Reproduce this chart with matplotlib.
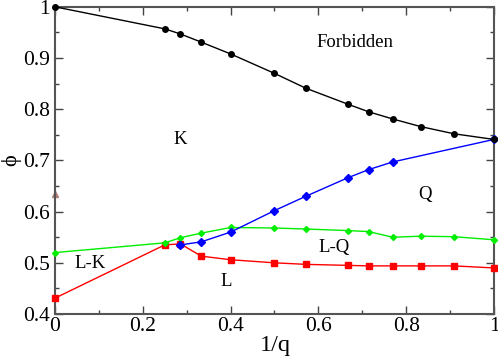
import matplotlib
matplotlib.use("Agg")
import matplotlib.pyplot as plt

plt.rcParams['font.family'] = ['Liberation Serif', 'DejaVu Serif']

# 1/q values
inv_q = [0, 0.25, 0.2857, 0.3333, 0.4, 0.5, 0.5714, 0.6667, 0.7143, 0.7692, 0.8333, 0.9091, 1.0]

phi_top = [1.0, 0.957, 0.947, 0.931, 0.908, 0.870, 0.841, 0.810, 0.795, 0.781, 0.766, 0.752, 0.741]

inv_q_blue = [0.2857, 0.3333, 0.4, 0.5, 0.5714, 0.6667, 0.7143, 0.7692, 1.0]
phi_blue = [0.535, 0.541, 0.560, 0.602, 0.630, 0.666, 0.682, 0.697, 0.741]

phi_green = [0.520, 0.539, 0.549, 0.558, 0.569, 0.568, 0.566, 0.563, 0.561, 0.550, 0.552, 0.551, 0.545]
phi_red = [0.431, 0.535, 0.537, 0.513, 0.506, 0.500, 0.497, 0.495, 0.494, 0.494, 0.494, 0.494, 0.490]

tri_x = [0]
tri_y = [0.635]

x_ticks = [0, 0.2, 0.4, 0.6, 0.8, 1.0]
x_ticklabels = ["0", "0.2", "0.4", "0.6", "0.8", "1"]
y_ticks = [0.4, 0.5, 0.6, 0.7, 0.8, 0.9, 1.0]
y_ticklabels = ["0.4", "0.5", "0.6", "0.7", "0.8", "0.9", "1"]

labels = ["Forbidden", "K", "Q", "L-Q", "L", "L-K"]
label_x = [0.683, 0.285, 0.843, 0.636, 0.39, 0.08]
label_y = [0.931, 0.740, 0.633, 0.530, 0.463, 0.498]

fig = plt.figure(figsize=(4.98, 3.59), dpi=100)
ax = fig.add_axes([0.1104, 0.1253, 0.8816, 0.8557])

ax.plot(inv_q, phi_red, color="red", marker="s", ms=4, lw=1, clip_on=False, zorder=3)
ax.plot(inv_q, phi_green, color="#00ee00", marker="D", ms=3, lw=1, clip_on=False, zorder=3)
ax.plot(inv_q_blue, phi_blue, color="blue", marker="D", ms=4.5, lw=1, clip_on=False, zorder=4)
ax.plot(inv_q, phi_top, color="black", marker="o", ms=4, lw=1, clip_on=False, zorder=5)
ax.plot(tri_x, tri_y, color="#b08078", marker="^", ms=5, ls="none", clip_on=False, zorder=2)

for t, x, y in zip(labels, label_x, label_y):
    ax.text(x, y, t, fontsize=13.5, ha="center", va="center")

ax.set_xlim(0, 1)
ax.set_ylim(0.4, 1.0)
ax.set_xticks(x_ticks)
ax.set_xticklabels(x_ticklabels)
ax.set_xticks([0.1, 0.3, 0.5, 0.7, 0.9], minor=True)
ax.set_yticks(y_ticks)
ax.set_yticklabels(y_ticklabels)
ax.set_yticks([0.45, 0.55, 0.65, 0.75, 0.85, 0.95], minor=True)
ax.tick_params(which="both", direction="in", top=True, right=True, labelsize=15.5, width=1, color="#444444")
ax.tick_params(which="major", length=6)
ax.tick_params(which="minor", length=3)
ax.tick_params(axis="x", pad=2)
for s in ax.spines.values():
    s.set_color("#555555")
    s.set_linewidth(1.5)

fig.text(275 / 498, 1 - 346 / 359, "1/q", fontsize=17.5, ha="center", va="center")
fig.text(11 / 498, 1 - 160 / 359, "ϕ", fontsize=16, rotation=90, ha="center", va="center")

fig.savefig("out.png", dpi=100)
